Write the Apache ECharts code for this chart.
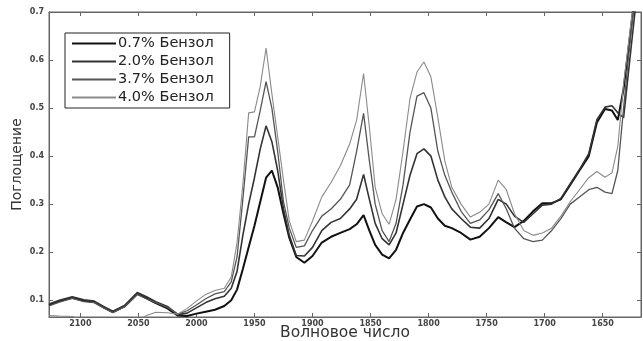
<!DOCTYPE html>
<html>
<head>
<meta charset="utf-8">
<script src="https://cdn.jsdelivr.net/npm/echarts@6/dist/echarts.min.js"></script>
<style>
html, body { margin: 0; padding: 0; background: #fff; }
#spectrum { width: 643px; height: 341px; }
</style>
</head>
<body>
<div id="spectrum"></div>
<script>
// волновые числа, см-1
var wavenumbers = [2127, 2118, 2107, 2097, 2088, 2080, 2072, 2062, 2051, 2043, 2035, 2025, 2016, 2008, 2000,
	1992, 1984, 1976, 1970, 1965, 1960, 1955, 1950, 1945, 1940, 1935, 1930, 1925, 1920, 1914, 1907, 1900,
	1892, 1884, 1876, 1868, 1862, 1856, 1851, 1846, 1840, 1834, 1828, 1822, 1816, 1810, 1804, 1798, 1792,
	1786, 1780, 1772, 1764, 1756, 1748, 1740, 1733, 1726, 1718, 1710, 1702, 1694, 1686, 1678, 1670, 1662,
	1655, 1648, 1642, 1637, 1632, 1628, 1624, 1620, 1617];

var benzol07 = [0.090, 0.098, 0.105, 0.099, 0.096, 0.085, 0.075, 0.087, 0.113, 0.104, 0.094, 0.083, 0.068, 0.067, 0.072,
	0.076, 0.080, 0.088, 0.100, 0.122, 0.165, 0.210, 0.255, 0.305, 0.355, 0.370, 0.335, 0.280, 0.230, 0.190, 0.178, 0.192,
	0.220, 0.232, 0.240, 0.248, 0.258, 0.277, 0.245, 0.215, 0.195, 0.187, 0.205, 0.240, 0.268, 0.295, 0.300, 0.293, 0.270,
	0.255, 0.250, 0.240, 0.226, 0.232, 0.250, 0.273, 0.262, 0.252, 0.265, 0.285, 0.302, 0.302, 0.310, 0.340, 0.370, 0.400,
	0.470, 0.498, 0.495, 0.475, 0.540, 0.620, 0.700, 0.780, 0.830];

var benzol20 = [0.092, 0.100, 0.107, 0.101, 0.098, 0.087, 0.077, 0.089, 0.116, 0.107, 0.097, 0.087, 0.070, 0.073, 0.084,
	0.095, 0.103, 0.108, 0.125, 0.160, 0.235, 0.300, 0.355, 0.415, 0.463, 0.430, 0.370, 0.290, 0.235, 0.193, 0.192, 0.210,
	0.245, 0.262, 0.270, 0.290, 0.310, 0.362, 0.310, 0.260, 0.228, 0.215, 0.240, 0.300, 0.360, 0.405, 0.415, 0.400, 0.350,
	0.315, 0.290, 0.270, 0.252, 0.250, 0.270, 0.310, 0.300, 0.275, 0.262, 0.280, 0.298, 0.300, 0.312, 0.342, 0.372, 0.405,
	0.476, 0.502, 0.505, 0.490, 0.480, 0.570, 0.660, 0.750, 0.800];

var benzol37 = [0.088, 0.096, 0.104, 0.097, 0.095, 0.084, 0.074, 0.086, 0.112, 0.103, 0.095, 0.085, 0.071, 0.078, 0.090,
	0.103, 0.113, 0.118, 0.138, 0.190, 0.310, 0.440, 0.440, 0.495, 0.555, 0.500, 0.410, 0.305, 0.250, 0.210, 0.213, 0.245,
	0.275, 0.290, 0.310, 0.340, 0.410, 0.489, 0.390, 0.300, 0.245, 0.222, 0.260, 0.340, 0.450, 0.525, 0.532, 0.500, 0.410,
	0.360, 0.325, 0.285, 0.260, 0.267, 0.288, 0.322, 0.290, 0.250, 0.228, 0.222, 0.225, 0.245, 0.270, 0.300, 0.315, 0.330,
	0.335, 0.325, 0.322, 0.370, 0.500, 0.600, 0.690, 0.770, 0.820];

var benzol40 = [0.068, 0.067, 0.066, 0.058, 0.050, 0.045, 0.045, 0.050, 0.058, 0.068, 0.075, 0.074, 0.071, 0.083, 0.098,
	0.112, 0.120, 0.125, 0.148, 0.220, 0.340, 0.490, 0.492, 0.545, 0.625, 0.530, 0.440, 0.350, 0.265, 0.222, 0.225, 0.265,
	0.315, 0.345, 0.380, 0.425, 0.475, 0.572, 0.460, 0.335, 0.280, 0.258, 0.310, 0.410, 0.520, 0.575, 0.596, 0.565, 0.480,
	0.390, 0.335, 0.300, 0.273, 0.283, 0.300, 0.350, 0.330, 0.280, 0.245, 0.235, 0.240, 0.250, 0.275, 0.305, 0.330, 0.355,
	0.368, 0.356, 0.365, 0.420, 0.550, 0.630, 0.710, 0.780, 0.820];

var xTicks = [2100, 2050, 2000, 1950, 1900, 1850, 1800, 1750, 1700, 1650];
var yTicks = [0.1, 0.2, 0.3, 0.4, 0.5, 0.6, 0.7];
var seriesNames = ['0.7% Бензол', '2.0% Бензол', '3.7% Бензол', '4.0% Бензол'];

function pairs(values) {
	var out = [];
	for (var i = 0; i < wavenumbers.length; i++) {
		out.push([wavenumbers[i], values[i]]);
	}
	return out;
}

var myChart = echarts.init(document.getElementById('spectrum'));

var tickLabel = {
	fontFamily: 'DejaVu Sans',
	fontSize: 8,
	fontWeight: 'bold',
	color: '#444'
};

function lineSeries(name, values, color, width) {
	return {
		name: name,
		type: 'line',
		data: pairs(values),
		showSymbol: false,
		symbol: 'none',
		clip: true,
		lineStyle: { color: color, width: width },
		itemStyle: { color: color }
	};
}

var option = {
	animation: false,
	backgroundColor: '#fff',
	grid: {
		left: 49,
		right: 2,
		top: 12,
		bottom: 24,
		outerBoundsMode: 'none',
		containLabel: false,
		show: true,
		borderColor: '#666',
		borderWidth: 1
	},
	legend: {
		orient: 'vertical',
		left: 65,
		top: 33,
		padding: [3, 16, 3, 6],
		itemGap: 3,
		itemWidth: 44,
		itemHeight: 14,
		borderColor: '#222',
		borderWidth: 1,
		backgroundColor: '#fff',
		itemStyle: { opacity: 0 },
		lineStyle: { opacity: 1 },
		textStyle: {
			fontFamily: 'DejaVu Sans',
			fontSize: 14.5,
			color: '#222',
			padding: [0, 0, 0, -3]
		},
		data: seriesNames
	},
	xAxis: [{
		type: 'value',
		inverse: true,
		min: 1617,
		max: 2127,
		name: 'Волновое число',
		nameLocation: 'middle',
		nameGap: 16,
		nameMoveOverlap: false,
		nameTextStyle: {
			fontFamily: 'DejaVu Sans',
			fontSize: 15.5,
			color: '#333',
			verticalAlign: 'middle'
		},
		axisLine: { show: true, lineStyle: { color: '#666' } },
		axisTick: { inside: true, length: 4, customValues: xTicks, lineStyle: { color: '#666' } },
		axisLabel: Object.assign({
			customValues: xTicks,
			margin: 3,
			formatter: function (v) { return String(v); }
		}, tickLabel),
		splitLine: { show: false }
	}, {
		type: 'value',
		inverse: true,
		position: 'top',
		min: 1617,
		max: 2127,
		axisLine: { show: true, lineStyle: { color: '#666' } },
		axisTick: { inside: true, length: 4, customValues: xTicks, lineStyle: { color: '#666' } },
		axisLabel: { show: false },
		splitLine: { show: false }
	}],
	yAxis: [{
		type: 'value',
		min: 0.065,
		max: 0.7,
		name: 'Поглощение',
		nameLocation: 'middle',
		nameGap: 25,
		nameMoveOverlap: false,
		nameTextStyle: {
			fontFamily: 'DejaVu Sans',
			fontSize: 14,
			color: '#333'
		},
		axisLine: { show: true, lineStyle: { color: '#666' } },
		axisTick: { inside: true, length: 4, customValues: yTicks, lineStyle: { color: '#666' } },
		axisLabel: Object.assign({
			customValues: yTicks,
			margin: 5,
			formatter: function (v) { return v.toFixed(1); }
		}, tickLabel),
		splitLine: { show: false }
	}, {
		type: 'value',
		position: 'right',
		min: 0.065,
		max: 0.7,
		axisLine: { show: true, lineStyle: { color: '#666' } },
		axisTick: { inside: true, length: 4, customValues: yTicks, lineStyle: { color: '#666' } },
		axisLabel: { show: false },
		splitLine: { show: false }
	}],
	series: [
		lineSeries(seriesNames[0], benzol07, '#111', 2),
		lineSeries(seriesNames[1], benzol20, '#333', 1.6),
		lineSeries(seriesNames[2], benzol37, '#555', 1.3),
		lineSeries(seriesNames[3], benzol40, '#8a8a8a', 1.1)
	]
};

myChart.setOption(option);
window.onresize = myChart.resize;
</script>
</body>
</html>
